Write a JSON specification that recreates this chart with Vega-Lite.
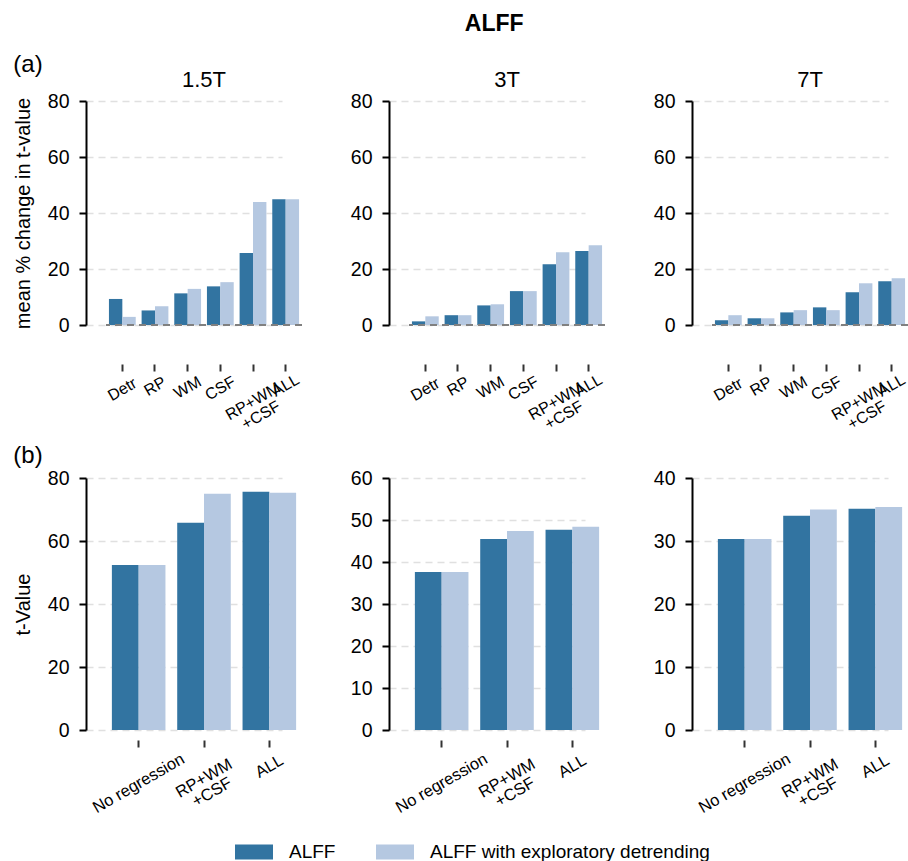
{
  "$schema": "https://vega.github.io/schema/vega-lite/v6.json",
  "padding": {"left": 13, "top": 13, "right": 5, "bottom": 5},
  "title": {"text": "ALFF", "fontSize": 23, "fontWeight": "bold", "anchor": "middle", "dx": 33, "offset": 17},
  "datasets": {
    "pct": [
      {"field": "1.5T", "reg": "Detr", "method": "ALFF", "value": 9.3},
      {"field": "1.5T", "reg": "Detr", "method": "ALFF with exploratory detrending", "value": 2.9},
      {"field": "1.5T", "reg": "RP", "method": "ALFF", "value": 5.2},
      {"field": "1.5T", "reg": "RP", "method": "ALFF with exploratory detrending", "value": 6.7},
      {"field": "1.5T", "reg": "WM", "method": "ALFF", "value": 11.3},
      {"field": "1.5T", "reg": "WM", "method": "ALFF with exploratory detrending", "value": 12.9},
      {"field": "1.5T", "reg": "CSF", "method": "ALFF", "value": 13.8},
      {"field": "1.5T", "reg": "CSF", "method": "ALFF with exploratory detrending", "value": 15.3},
      {"field": "1.5T", "reg": "RP+WM+CSF", "method": "ALFF", "value": 25.7},
      {"field": "1.5T", "reg": "RP+WM+CSF", "method": "ALFF with exploratory detrending", "value": 43.9},
      {"field": "1.5T", "reg": "ALL", "method": "ALFF", "value": 44.9},
      {"field": "1.5T", "reg": "ALL", "method": "ALFF with exploratory detrending", "value": 44.9},
      {"field": "3T", "reg": "Detr", "method": "ALFF", "value": 1.3},
      {"field": "3T", "reg": "Detr", "method": "ALFF with exploratory detrending", "value": 3.1},
      {"field": "3T", "reg": "RP", "method": "ALFF", "value": 3.5},
      {"field": "3T", "reg": "RP", "method": "ALFF with exploratory detrending", "value": 3.5},
      {"field": "3T", "reg": "WM", "method": "ALFF", "value": 7.0},
      {"field": "3T", "reg": "WM", "method": "ALFF with exploratory detrending", "value": 7.4},
      {"field": "3T", "reg": "CSF", "method": "ALFF", "value": 12.1},
      {"field": "3T", "reg": "CSF", "method": "ALFF with exploratory detrending", "value": 12.1},
      {"field": "3T", "reg": "RP+WM+CSF", "method": "ALFF", "value": 21.7},
      {"field": "3T", "reg": "RP+WM+CSF", "method": "ALFF with exploratory detrending", "value": 26.0},
      {"field": "3T", "reg": "ALL", "method": "ALFF", "value": 26.4},
      {"field": "3T", "reg": "ALL", "method": "ALFF with exploratory detrending", "value": 28.5},
      {"field": "7T", "reg": "Detr", "method": "ALFF", "value": 1.7},
      {"field": "7T", "reg": "Detr", "method": "ALFF with exploratory detrending", "value": 3.5},
      {"field": "7T", "reg": "RP", "method": "ALFF", "value": 2.4},
      {"field": "7T", "reg": "RP", "method": "ALFF with exploratory detrending", "value": 2.4},
      {"field": "7T", "reg": "WM", "method": "ALFF", "value": 4.5},
      {"field": "7T", "reg": "WM", "method": "ALFF with exploratory detrending", "value": 5.3},
      {"field": "7T", "reg": "CSF", "method": "ALFF", "value": 6.3},
      {"field": "7T", "reg": "CSF", "method": "ALFF with exploratory detrending", "value": 5.3},
      {"field": "7T", "reg": "RP+WM+CSF", "method": "ALFF", "value": 11.7},
      {"field": "7T", "reg": "RP+WM+CSF", "method": "ALFF with exploratory detrending", "value": 14.9},
      {"field": "7T", "reg": "ALL", "method": "ALFF", "value": 15.6},
      {"field": "7T", "reg": "ALL", "method": "ALFF with exploratory detrending", "value": 16.7}
    ],
    "tval": [
      {"field": "1.5T", "reg": "No regression", "method": "ALFF", "value": 52.4},
      {"field": "1.5T", "reg": "No regression", "method": "ALFF with exploratory detrending", "value": 52.4},
      {"field": "1.5T", "reg": "RP+WM+CSF", "method": "ALFF", "value": 65.8},
      {"field": "1.5T", "reg": "RP+WM+CSF", "method": "ALFF with exploratory detrending", "value": 75.0},
      {"field": "1.5T", "reg": "ALL", "method": "ALFF", "value": 75.6},
      {"field": "1.5T", "reg": "ALL", "method": "ALFF with exploratory detrending", "value": 75.3},
      {"field": "3T", "reg": "No regression", "method": "ALFF", "value": 37.6},
      {"field": "3T", "reg": "No regression", "method": "ALFF with exploratory detrending", "value": 37.6},
      {"field": "3T", "reg": "RP+WM+CSF", "method": "ALFF", "value": 45.5},
      {"field": "3T", "reg": "RP+WM+CSF", "method": "ALFF with exploratory detrending", "value": 47.4},
      {"field": "3T", "reg": "ALL", "method": "ALFF", "value": 47.7},
      {"field": "3T", "reg": "ALL", "method": "ALFF with exploratory detrending", "value": 48.4},
      {"field": "7T", "reg": "No regression", "method": "ALFF", "value": 30.3},
      {"field": "7T", "reg": "No regression", "method": "ALFF with exploratory detrending", "value": 30.3},
      {"field": "7T", "reg": "RP+WM+CSF", "method": "ALFF", "value": 34.0},
      {"field": "7T", "reg": "RP+WM+CSF", "method": "ALFF with exploratory detrending", "value": 35.0},
      {"field": "7T", "reg": "ALL", "method": "ALFF", "value": 35.1},
      {"field": "7T", "reg": "ALL", "method": "ALFF with exploratory detrending", "value": 35.4}
    ]
  },
  "vconcat": [
    {
      "title": {"text": "(a)", "anchor": "start", "fontSize": 24, "fontWeight": "normal", "offset": -8},
      "bounds": "flush",
      "spacing": 107,
      "resolve": {"scale": {"xOffset": "independent", "x": "independent", "y": "independent"}},
      "hconcat": [
        {
          "width": 196, "height": 224,
          "title": {"text": "1.5T", "offset": -1},
          "data": {"name": "pct"},
          "transform": [{"filter": "datum.field == '1.5T'"}],
          "layer": [
            {
              "mark": {"type": "bar"},
              "encoding": {
                "x": {"field": "reg", "type": "nominal", "sort": ["Detr", "RP", "WM", "CSF", "RP+WM+CSF", "ALL"], "title": null,
                  "scale": {"paddingInner": 0.18, "paddingOuter": 0.09},
                  "axis": {"offset": 39, "labelFontSize": 16, "labelExpr": "datum.value == 'RP+WM+CSF' ? ['RP+WM', '+CSF'] : datum.label",
                    "labelPadding": {"condition": [{"test": "datum.value == 'Detr'", "value": 18}, {"test": "datum.value == 'RP'", "value": 15}, {"test": "datum.value == 'WM'", "value": 16}, {"test": "datum.value == 'CSF'", "value": 17}, {"test": "datum.value == 'RP+WM+CSF'", "value": 30}], "value": 14}}},
                "xOffset": {"field": "method", "type": "nominal", "sort": ["ALFF", "ALFF with exploratory detrending"], "scale": {"paddingInner": 0, "paddingOuter": 0}},
                "y": {"field": "value", "type": "quantitative", "scale": {"domain": [0, 80], "nice": false}, "axis": {"values": [0, 20, 40, 60, 80], "title": "mean % change in t-value"}},
                "color": {"field": "method", "type": "nominal", "sort": ["ALFF", "ALFF with exploratory detrending"], "scale": {"domain": ["ALFF", "ALFF with exploratory detrending"], "range": ["#3274a1", "#b5c8e1"]}}
              }
            },
            {
              "data": {"values": [{}]},
              "mark": {"type": "rule", "color": "#808080", "strokeDash": [7, 5], "strokeWidth": 2},
              "encoding": {"y": {"datum": 0}}
            }
          ]
        },
        {
          "width": 196, "height": 224,
          "title": {"text": "3T", "offset": -1},
          "data": {"name": "pct"},
          "transform": [{"filter": "datum.field == '3T'"}],
          "layer": [
            {
              "mark": {"type": "bar"},
              "encoding": {
                "x": {"field": "reg", "type": "nominal", "sort": ["Detr", "RP", "WM", "CSF", "RP+WM+CSF", "ALL"], "title": null,
                  "scale": {"paddingInner": 0.18, "paddingOuter": 0.09},
                  "axis": {"offset": 39, "labelFontSize": 16, "labelExpr": "datum.value == 'RP+WM+CSF' ? ['RP+WM', '+CSF'] : datum.label",
                    "labelPadding": {"condition": [{"test": "datum.value == 'Detr'", "value": 18}, {"test": "datum.value == 'RP'", "value": 15}, {"test": "datum.value == 'WM'", "value": 16}, {"test": "datum.value == 'CSF'", "value": 17}, {"test": "datum.value == 'RP+WM+CSF'", "value": 30}], "value": 14}}},
                "xOffset": {"field": "method", "type": "nominal", "sort": ["ALFF", "ALFF with exploratory detrending"], "scale": {"paddingInner": 0, "paddingOuter": 0}},
                "y": {"field": "value", "type": "quantitative", "scale": {"domain": [0, 80], "nice": false}, "axis": {"values": [0, 20, 40, 60, 80], "title": null}},
                "color": {"field": "method", "type": "nominal", "sort": ["ALFF", "ALFF with exploratory detrending"]}
              }
            },
            {
              "data": {"values": [{}]},
              "mark": {"type": "rule", "color": "#808080", "strokeDash": [7, 5], "strokeWidth": 2},
              "encoding": {"y": {"datum": 0}}
            }
          ]
        },
        {
          "width": 196, "height": 224,
          "title": {"text": "7T", "offset": -1},
          "data": {"name": "pct"},
          "transform": [{"filter": "datum.field == '7T'"}],
          "layer": [
            {
              "mark": {"type": "bar"},
              "encoding": {
                "x": {"field": "reg", "type": "nominal", "sort": ["Detr", "RP", "WM", "CSF", "RP+WM+CSF", "ALL"], "title": null,
                  "scale": {"paddingInner": 0.18, "paddingOuter": 0.09},
                  "axis": {"offset": 39, "labelFontSize": 16, "labelExpr": "datum.value == 'RP+WM+CSF' ? ['RP+WM', '+CSF'] : datum.label",
                    "labelPadding": {"condition": [{"test": "datum.value == 'Detr'", "value": 18}, {"test": "datum.value == 'RP'", "value": 15}, {"test": "datum.value == 'WM'", "value": 16}, {"test": "datum.value == 'CSF'", "value": 17}, {"test": "datum.value == 'RP+WM+CSF'", "value": 30}], "value": 14}}},
                "xOffset": {"field": "method", "type": "nominal", "sort": ["ALFF", "ALFF with exploratory detrending"], "scale": {"paddingInner": 0, "paddingOuter": 0}},
                "y": {"field": "value", "type": "quantitative", "scale": {"domain": [0, 80], "nice": false}, "axis": {"values": [0, 20, 40, 60, 80], "title": null}},
                "color": {"field": "method", "type": "nominal", "sort": ["ALFF", "ALFF with exploratory detrending"]}
              }
            },
            {
              "data": {"values": [{}]},
              "mark": {"type": "rule", "color": "#808080", "strokeDash": [7, 5], "strokeWidth": 2},
              "encoding": {"y": {"datum": 0}}
            }
          ]
        }
      ]
    },
    {
      "title": {"text": "(b)", "anchor": "start", "fontSize": 24, "fontWeight": "normal", "offset": 0},
      "bounds": "flush",
      "spacing": 107,
      "resolve": {"scale": {"xOffset": "independent", "x": "independent", "y": "independent"}},
      "hconcat": [
        {
          "width": 196, "height": 252,
          "data": {"name": "tval"},
          "transform": [{"filter": "datum.field == '1.5T'"}],
          "mark": {"type": "bar"},
          "encoding": {
            "x": {"field": "reg", "type": "nominal", "sort": ["No regression", "RP+WM+CSF", "ALL"], "title": null,
              "scale": {"paddingInner": 0.18, "paddingOuter": 0.09},
              "axis": {"offset": 10, "labelFontSize": 16.5, "labelExpr": "datum.value == 'RP+WM+CSF' ? ['RP+WM', '+CSF'] : datum.label",
                "labelPadding": {"condition": [{"test": "datum.value == 'No regression'", "value": 36}, {"test": "datum.value == 'RP+WM+CSF'", "value": 31}], "value": 19}}},
            "xOffset": {"field": "method", "type": "nominal", "sort": ["ALFF", "ALFF with exploratory detrending"], "scale": {"paddingInner": 0, "paddingOuter": 0}},
            "y": {"field": "value", "type": "quantitative", "scale": {"domain": [0, 80], "nice": false}, "axis": {"values": [0, 20, 40, 60, 80], "title": "t-Value"}},
            "color": {"field": "method", "type": "nominal", "sort": ["ALFF", "ALFF with exploratory detrending"]}
          }
        },
        {
          "width": 196, "height": 252,
          "data": {"name": "tval"},
          "transform": [{"filter": "datum.field == '3T'"}],
          "mark": {"type": "bar"},
          "encoding": {
            "x": {"field": "reg", "type": "nominal", "sort": ["No regression", "RP+WM+CSF", "ALL"], "title": null,
              "scale": {"paddingInner": 0.18, "paddingOuter": 0.09},
              "axis": {"offset": 10, "labelFontSize": 16.5, "labelExpr": "datum.value == 'RP+WM+CSF' ? ['RP+WM', '+CSF'] : datum.label",
                "labelPadding": {"condition": [{"test": "datum.value == 'No regression'", "value": 36}, {"test": "datum.value == 'RP+WM+CSF'", "value": 31}], "value": 19}}},
            "xOffset": {"field": "method", "type": "nominal", "sort": ["ALFF", "ALFF with exploratory detrending"], "scale": {"paddingInner": 0, "paddingOuter": 0}},
            "y": {"field": "value", "type": "quantitative", "scale": {"domain": [0, 60], "nice": false}, "axis": {"values": [0, 10, 20, 30, 40, 50, 60], "title": null}},
            "color": {"field": "method", "type": "nominal", "sort": ["ALFF", "ALFF with exploratory detrending"]}
          }
        },
        {
          "width": 196, "height": 252,
          "data": {"name": "tval"},
          "transform": [{"filter": "datum.field == '7T'"}],
          "mark": {"type": "bar"},
          "encoding": {
            "x": {"field": "reg", "type": "nominal", "sort": ["No regression", "RP+WM+CSF", "ALL"], "title": null,
              "scale": {"paddingInner": 0.18, "paddingOuter": 0.09},
              "axis": {"offset": 10, "labelFontSize": 16.5, "labelExpr": "datum.value == 'RP+WM+CSF' ? ['RP+WM', '+CSF'] : datum.label",
                "labelPadding": {"condition": [{"test": "datum.value == 'No regression'", "value": 36}, {"test": "datum.value == 'RP+WM+CSF'", "value": 31}], "value": 19}}},
            "xOffset": {"field": "method", "type": "nominal", "sort": ["ALFF", "ALFF with exploratory detrending"], "scale": {"paddingInner": 0, "paddingOuter": 0}},
            "y": {"field": "value", "type": "quantitative", "scale": {"domain": [0, 40], "nice": false}, "axis": {"values": [0, 10, 20, 30, 40], "title": null}},
            "color": {"field": "method", "type": "nominal", "sort": ["ALFF", "ALFF with exploratory detrending"]}
          }
        }
      ]
    }
  ],
  "bounds": "flush",
  "spacing": 377,
  "resolve": {"scale": {"xOffset": "independent", "x": "independent", "y": "independent"}},
  "config": {
    "font": "Liberation Sans",
    "view": {"stroke": null},
    "title": {"fontSize": 22, "fontWeight": "normal", "color": "#000", "offset": 12},
    "axis": {"labelColor": "#000", "titleColor": "#000", "labelFont": "Liberation Sans", "titleFont": "Liberation Sans"},
    "axisY": {"domainColor": "#000", "domainWidth": 2, "tickColor": "#000", "tickWidth": 2, "tickSize": 7, "labelFontSize": 19.5, "labelPadding": 10, "titleFontSize": 20, "titleFontWeight": "normal", "titlePadding": 14, "grid": true, "gridColor": "#e0e0e0", "gridDash": [7, 5], "gridWidth": 1.3, "offset": 20},
    "axisX": {"domain": false, "grid": false, "tickColor": "#333", "tickWidth": 2, "tickSize": 7, "labelFontSize": 15, "labelAngle": -30, "labelAlign": "center", "labelBaseline": "middle", "labelOverlap": false, "labelBound": false, "labelFlush": false, "labelLineHeight": 16},
    "legend": {"orient": "none", "legendX": 129, "legendY": 732, "direction": "horizontal", "title": null, "symbolType": "M-1,-0.395H1V0.395H-1Z", "symbolSize": 1444, "symbolStrokeWidth": 0, "symbolOpacity": 1, "labelFontSize": 19, "labelOffset": 16, "columnPadding": 40, "labelColor": "#000", "labelFont": "Liberation Sans", "labelLimit": 400}
  }
}
